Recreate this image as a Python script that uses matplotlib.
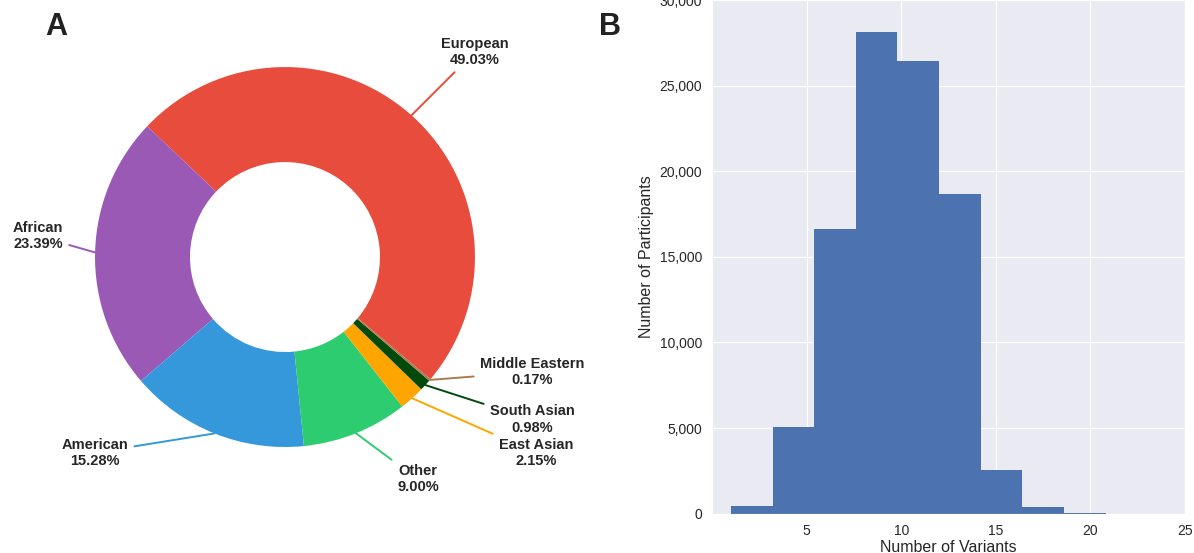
import matplotlib
matplotlib.use("Agg")
import matplotlib.pyplot as plt
from matplotlib.ticker import FuncFormatter
import numpy as np
import seaborn as sns

# Ancestry composition (percent of participants)
ancestry = ["European", "African", "American", "Other",
            "East Asian", "South Asian", "Middle Eastern"]
ancestry_pct = [49.03, 23.39, 15.28, 9.00, 2.15, 0.98, 0.17]
ancestry_colors = ["#E74C3C", "#9B59B6", "#3498DB", "#2ECC71",
                   "#FFA500", "#014A0C", "#A97C4A"]

# Where each callout label sits (pie data units, radius = 1)
label_pos = [(1.0, 1.08), (-1.30, 0.11), (-1.0, -1.03), (0.70, -1.17),
             (1.32, -1.03), (1.30, -0.855), (1.30, -0.605)]

# Distribution of variant counts per participant
variant_bin_edges = [1.0, 3.2, 5.4, 7.6, 9.8, 12.0, 14.2, 16.4, 18.6, 20.8, 23.0]
participant_counts = [460, 5050, 16630, 28120, 26460, 18680, 2580, 410, 40, 3]

sns.set_style("darkgrid")
plt.rcParams["font.family"] = ["Liberation Sans", "DejaVu Sans"]

fig = plt.figure(figsize=(11.94, 5.53), dpi=100)

# ---- Panel A: donut chart ----
ax1 = fig.add_axes([0, 0, 600 / 1194, 1])
ax1.set_facecolor("white")
wedges, _ = ax1.pie(ancestry_pct, colors=ancestry_colors, startangle=-40,
                    counterclock=True, radius=1.0,
                    wedgeprops=dict(width=0.5, linewidth=0))
ax1.set_xlim(-1.5, 1.658)
ax1.set_ylim(-1.558, 1.353)
ax1.set_aspect("equal")
ax1.axis("off")

for w, name, pct, col, pos in zip(wedges, ancestry, ancestry_pct,
                                  ancestry_colors, label_pos):
    mid = np.deg2rad((w.theta1 + w.theta2) / 2)
    xy = (np.cos(mid), np.sin(mid))
    ax1.annotate(f"{name}\n{pct:.2f}%", xy=xy, xytext=pos,
                 ha="center", va="center", fontsize=10.5, fontweight="bold",
                 color="#262626", linespacing=1.2,
                 arrowprops=dict(arrowstyle="-", color=col, lw=1.4,
                                 shrinkA=2, shrinkB=0))

fig.text(56 / 1194, 1 - 27 / 553, "A", fontsize=22, fontweight="bold",
         color="#222222", ha="center", va="center")

# ---- Panel B: histogram ----
ax2 = fig.add_axes([712 / 1194, (553 - 513.7) / 553,
                    (1185 - 712) / 1194, 513.7 / 553])
centers = [(a + b) / 2 for a, b in zip(variant_bin_edges[:-1], variant_bin_edges[1:])]
ax2.hist(centers, bins=variant_bin_edges, weights=participant_counts,
         color="#4C72B0", edgecolor="none")
ax2.set_xlim(0, 25)
ax2.set_ylim(0, 30000)
ax2.set_xticks([5, 10, 15, 20, 25])
ax2.set_yticks(range(0, 30001, 5000))
ax2.yaxis.set_major_formatter(FuncFormatter(lambda v, p: f"{v:,.0f}"))
ax2.tick_params(labelsize=10, colors="#262626")
ax2.tick_params(axis="x", pad=4)
ax2.set_xlabel("Number of Variants", fontsize=11.5, color="#262626", labelpad=1)
ax2.set_ylabel("Number of Participants", fontsize=11.5, color="#262626")

fig.text(610 / 1194, 1 - 27 / 553, "B", fontsize=22, fontweight="bold",
         color="#222222", ha="center", va="center")

fig.savefig("out.png", dpi=100)
